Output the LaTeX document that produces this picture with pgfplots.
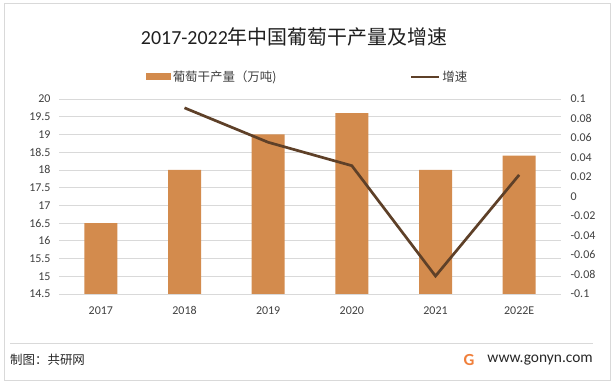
\documentclass[border=0pt]{standalone}
\usepackage{pgfplots}
\pgfplotsset{compat=1.18}
\usepackage{fontspec}
\setmainfont{Carlito}
\newfontfamily\cjk{Noto Sans CJK SC}
\definecolor{barc}{RGB}{211,139,77}
\definecolor{linec}{RGB}{94,64,40}
\definecolor{gridc}{RGB}{217,217,217}
\definecolor{txt}{RGB}{64,64,64}
\definecolor{logoc}{RGB}{240,128,60}
\begin{document}
\begin{tikzpicture}
\path (0bp,0bp) rectangle (614bp,383bp);
\draw[gridc, line width=0.8bp] (4bp,3bp) rectangle (610bp,380bp);
\node[font=\fontsize{20}{24}\selectfont, text=black!88] at (294bp,346bp) {2017-2022{\cjk 年中国葡萄干产量及增速}};
\begin{axis}[
  at={(59bp,89bp)}, anchor=south west, scale only axis,
  width=502bp, height=195bp,
  xmin=-0.5, xmax=5.5, ymin=14.5, ymax=20,
  xtick={0,1,2,3,4,5}, xticklabels={2017,2018,2019,2020,2021,2022E},
  ytick={14.5,15,15.5,16,16.5,17,17.5,18,18.5,19,19.5,20},
  yticklabels={14.5,15,15.5,16,16.5,17,17.5,18,18.5,19,19.5,20},
  ymajorgrids, grid style={gridc, line width=0.75bp},
  axis line style={draw=none}, major tick length=0pt,
  tick label style={font=\fontsize{12}{13}\selectfont, text=txt},
  /pgf/number format/assume math mode=true,
  xticklabel style={anchor=base, yshift=-21bp, text depth=0pt},
  yticklabel style={xshift=-5bp},
  ybar, bar width=33bp,
]
\addplot[fill=barc, draw=none] coordinates {(0,16.5)(1,18)(2,19)(3,19.6)(4,18)(5,18.4)};
\end{axis}
\begin{axis}[
  at={(59bp,89bp)}, anchor=south west, scale only axis,
  width=502bp, height=195bp,
  xmin=-0.5, xmax=5.5, ymin=-0.1, ymax=0.1,
  axis y line*=right, hide x axis,
  axis line style={draw=none}, major tick length=0pt,
  ytick={-0.1,-0.08,-0.06,-0.04,-0.02,0,0.02,0.04,0.06,0.08,0.1},
  yticklabels={-0.1,-0.08,-0.06,-0.04,-0.02,0,0.02,0.04,0.06,0.08,0.1},
  tick label style={font=\fontsize{12}{13}\selectfont, text=txt},
  yticklabel style={xshift=6bp},
  legend columns=2,
  legend style={at={(0.495,1.113)}, anchor=center, draw=none, fill=none,
    font=\fontsize{12.5}{14}\selectfont, text=txt,
    /tikz/every even column/.append style={column sep=132bp},
    nodes={inner sep=1.5bp}},
]
\addlegendimage{fill=barc, draw=none, legend image code/.code={\fill[barc] (0bp,-3.5bp) rectangle (25bp,3.5bp);}}
\addlegendentry{{\cjk 葡萄干产量（万吨)}}
\addplot[linec, line width=2.7bp, legend image code/.code={\draw[linec, line width=2.7bp] (0bp,0bp) -- (28bp,0bp);}] coordinates {(1,0.0909)(2,0.0556)(3,0.0316)(4,-0.0816)(5,0.0222)};
\addlegendentry{{\cjk 增速}}
\end{axis}
\draw[gridc, line width=0.8bp] (10bp,40bp) -- (593bp,40bp);
\node[anchor=west, font=\fontsize{12.5}{14}\selectfont, text=black!85, inner sep=0pt] at (10bp,23bp) {\cjk 制图：共研网};
\node[anchor=east, font=\fontsize{15.5}{18}\selectfont, text=black!85, inner sep=0pt] at (593bp,23bp) {www.gonyn.com};
\node[font=\fontsize{17}{18}\selectfont\bfseries, text=logoc, inner sep=0pt] at (469bp,23bp) {G};
\end{tikzpicture}
\end{document}
